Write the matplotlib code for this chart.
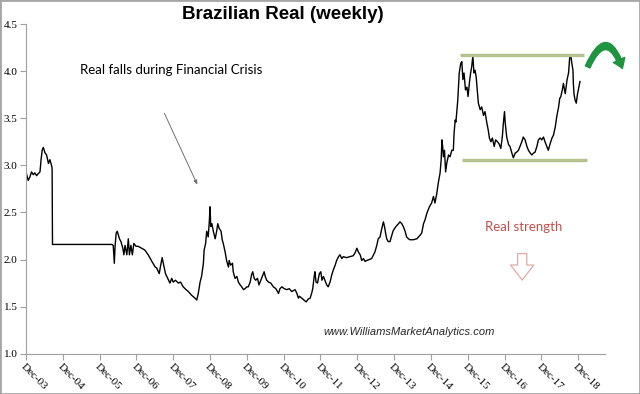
import matplotlib
matplotlib.use("Agg")
import matplotlib.pyplot as plt
from matplotlib.patches import FancyArrowPatch, Rectangle
import numpy as np

# weekly USD/BRL, dates as decimal years
dates = [
    2003.92, 2003.98, 2004.03, 2004.07, 2004.12, 2004.16, 2004.21, 2004.25, 2004.30, 2004.33,
    2004.36, 2004.39, 2004.44, 2004.48, 2004.53, 2004.57, 2004.62, 2004.63, 2004.64, 2006.25,
    2006.29, 2006.32, 2006.34, 2006.37, 2006.40, 2006.46, 2006.50, 2006.55, 2006.58, 2006.61,
    2006.66, 2006.70, 2006.73, 2006.77, 2006.81, 2006.85, 2006.91, 2006.97, 2007.06, 2007.15,
    2007.24, 2007.34, 2007.43, 2007.47, 2007.54, 2007.58, 2007.62, 2007.65, 2007.71, 2007.77,
    2007.83, 2007.88, 2007.92, 2007.98, 2008.06, 2008.12, 2008.19, 2008.27, 2008.33, 2008.42,
    2008.51, 2008.56, 2008.60, 2008.65, 2008.69, 2008.74, 2008.76, 2008.80, 2008.83, 2008.87,
    2008.90, 2008.92, 2008.94, 2008.97, 2009.01, 2009.06, 2009.10, 2009.13, 2009.17, 2009.22,
    2009.25, 2009.28, 2009.33, 2009.37, 2009.42, 2009.44, 2009.48, 2009.53, 2009.55, 2009.60,
    2009.65, 2009.69, 2009.74, 2009.78, 2009.83, 2009.87, 2009.92, 2009.96, 2010.01, 2010.05,
    2010.08, 2010.12, 2010.16, 2010.21, 2010.25, 2010.30, 2010.34, 2010.39, 2010.42, 2010.46,
    2010.51, 2010.57, 2010.64, 2010.71, 2010.78, 2010.82, 2010.87, 2010.94, 2011.00, 2011.07,
    2011.14, 2011.23, 2011.28, 2011.32, 2011.35, 2011.41, 2011.47, 2011.53, 2011.59, 2011.64,
    2011.68, 2011.71, 2011.75, 2011.77, 2011.80, 2011.84, 2011.89, 2011.93, 2011.96, 2012.00,
    2012.04, 2012.09, 2012.13, 2012.18, 2012.23, 2012.27, 2012.32, 2012.36, 2012.41, 2012.45,
    2012.50, 2012.54, 2012.63, 2012.72, 2012.81, 2012.86, 2012.91, 2012.95, 2013.00, 2013.04,
    2013.09, 2013.13, 2013.18, 2013.25, 2013.31, 2013.36, 2013.40, 2013.45, 2013.49, 2013.54,
    2013.57, 2013.60, 2013.63, 2013.66, 2013.69, 2013.72, 2013.76, 2013.81, 2013.86, 2013.90,
    2013.97, 2014.04, 2014.08, 2014.13, 2014.17, 2014.22, 2014.26, 2014.31, 2014.35, 2014.44,
    2014.54, 2014.63, 2014.67, 2014.72, 2014.76, 2014.81, 2014.88, 2014.94, 2014.99, 2015.03,
    2015.08, 2015.12, 2015.17, 2015.20, 2015.22, 2015.24, 2015.26, 2015.29, 2015.32, 2015.35,
    2015.40, 2015.44, 2015.49, 2015.53, 2015.55, 2015.58, 2015.60, 2015.62, 2015.65, 2015.67,
    2015.69, 2015.73, 2015.76, 2015.79, 2015.82, 2015.86, 2015.90, 2015.93, 2015.97, 2016.00,
    2016.03, 2016.06, 2016.09, 2016.12, 2016.15, 2016.18, 2016.21, 2016.26, 2016.30, 2016.35,
    2016.39, 2016.44, 2016.48, 2016.51, 2016.55, 2016.59, 2016.64, 2016.68, 2016.73, 2016.77,
    2016.82, 2016.86, 2016.89, 2016.92, 2016.94, 2016.98, 2017.03, 2017.07, 2017.12, 2017.16,
    2017.21, 2017.25, 2017.30, 2017.34, 2017.39, 2017.43, 2017.48, 2017.53, 2017.57, 2017.62,
    2017.66, 2017.71, 2017.75, 2017.80, 2017.84, 2017.89, 2017.93, 2017.98, 2018.02, 2018.07,
    2018.11, 2018.16, 2018.21, 2018.25, 2018.30, 2018.34, 2018.39, 2018.42, 2018.45, 2018.49,
    2018.52, 2018.57, 2018.62, 2018.66, 2018.69, 2018.72, 2018.75, 2018.78, 2018.79, 2018.81,
    2018.84, 2018.87, 2018.90, 2018.94, 2018.97,
]
rate = [
    2.93, 2.84, 2.88, 2.93, 2.90, 2.92, 2.89, 2.91, 2.93, 3.06,
    3.16, 3.19, 3.13, 3.11, 3.02, 3.06, 2.99, 2.96, 2.16, 2.16,
    2.15, 1.96, 2.14, 2.28, 2.30, 2.22, 2.19, 2.12, 2.05, 2.15,
    2.05, 2.22, 2.05, 2.15, 2.05, 2.17, 2.14, 2.14, 2.12, 2.10,
    2.05, 1.98, 1.92, 1.91, 1.85, 1.94, 2.02, 1.96, 1.85, 1.80,
    1.75, 1.80, 1.76, 1.78, 1.75, 1.76, 1.71, 1.68, 1.66, 1.62,
    1.59, 1.57, 1.64, 1.76, 1.82, 1.96, 2.10, 2.17, 2.30, 2.24,
    2.40, 2.56, 2.35, 2.38, 2.30, 2.22, 2.30, 2.38, 2.33, 2.30,
    2.21, 2.17, 2.08, 1.99, 1.92, 1.99, 1.94, 1.96, 1.87, 1.80,
    1.82, 1.76, 1.73, 1.71, 1.68, 1.69, 1.71, 1.71, 1.76, 1.84,
    1.87, 1.80, 1.78, 1.80, 1.73, 1.78, 1.82, 1.87, 1.82, 1.78,
    1.76, 1.75, 1.71, 1.69, 1.64, 1.69, 1.71, 1.69, 1.68, 1.69,
    1.66, 1.68, 1.64, 1.59, 1.61, 1.59, 1.57, 1.55, 1.58, 1.59,
    1.64, 1.69, 1.82, 1.87, 1.76, 1.75, 1.85, 1.87, 1.78, 1.82,
    1.78, 1.73, 1.71, 1.76, 1.84, 1.89, 1.94, 1.99, 2.03, 2.05,
    2.01, 2.03, 2.02, 2.03, 2.04, 2.07, 2.12, 2.08, 2.05, 1.99,
    2.01, 1.98, 1.99, 2.00, 2.01, 2.05, 2.08, 2.15, 2.22, 2.24,
    2.30, 2.35, 2.40, 2.35, 2.28, 2.22, 2.19, 2.19, 2.26, 2.31,
    2.35, 2.38, 2.40, 2.38, 2.35, 2.30, 2.24, 2.22, 2.21, 2.21,
    2.22, 2.26, 2.28, 2.38, 2.42, 2.49, 2.56, 2.60, 2.67, 2.60,
    2.70, 2.81, 2.92, 3.06, 3.27, 3.20, 3.09, 3.16, 2.93, 3.02,
    3.11, 3.09, 3.16, 3.16, 3.34, 3.48, 3.46, 3.55, 3.69, 3.83,
    3.98, 4.08, 4.10, 3.91, 3.98, 3.80, 3.83, 3.73, 3.89, 3.98,
    4.05, 4.16, 3.98, 4.01, 3.94, 3.80, 3.66, 3.59, 3.62, 3.53,
    3.57, 3.45, 3.37, 3.29, 3.25, 3.29, 3.20, 3.27, 3.25, 3.23,
    3.18, 3.30, 3.45, 3.57, 3.45, 3.30, 3.22, 3.20, 3.13, 3.08,
    3.13, 3.14, 3.16, 3.20, 3.25, 3.30, 3.27, 3.20, 3.16, 3.13,
    3.11, 3.13, 3.14, 3.20, 3.27, 3.29, 3.27, 3.30, 3.25, 3.20,
    3.16, 3.23, 3.29, 3.32, 3.41, 3.52, 3.62, 3.71, 3.73, 3.80,
    3.87, 3.76, 3.91, 3.98, 4.14, 4.17, 4.08, 4.01, 3.87, 3.75,
    3.69, 3.66, 3.75, 3.83, 3.89,
]

tick_years = [2003.92 + i for i in range(16)]
tick_labels = ["Dec-%02d" % (y % 100) for y in range(3, 19)]
resistance = 4.17
support = 3.06

fig = plt.figure(figsize=(6.4, 3.94), dpi=100)
ax = fig.add_axes([0.0406, 0.1023, 0.9047, 0.8367])

ax.plot(dates, rate, color="black", lw=1.0)

# channel lines
ax.hlines(resistance, 2015.71, 2019.09, color="#b4c28e", lw=2.4)
ax.hlines(support, 2015.76, 2019.16, color="#b4c28e", lw=2.4)

ax.set_xlim(2003.92, 2019.65)
ax.set_ylim(1.0, 4.5)
ax.set_yticks(np.arange(1.0, 4.51, 0.5))
ax.set_yticklabels(["%.1f" % v for v in np.arange(1.0, 4.51, 0.5)],
                   family="Liberation Serif", fontsize=8)
ax.set_xticks(tick_years)
ax.set_xticklabels(tick_labels, rotation=-45, ha="left", va="top",
                   rotation_mode="anchor", family="Liberation Serif", fontsize=8)

for s in ["top", "right"]:
    ax.spines[s].set_visible(False)
for s in ["left", "bottom"]:
    ax.spines[s].set_color("#a0a0a0")
ax.tick_params(axis="both", direction="out", length=4, width=0.8, color="#a0a0a0", pad=2)

# title
fig.text(0.442, 0.962, "Brazilian Real (weekly)", ha="center", va="center",
         fontsize=13.5, fontweight="bold", family="Liberation Sans")

# crisis annotation
ax.text(0.093, 0.86, "Real falls during Financial Crisis", transform=ax.transAxes,
        ha="left", va="center", fontsize=9.5, family="Lato")
ax.annotate("", xy=(0.298, 0.505), xytext=(0.237, 0.737),
            xycoords="axes fraction", textcoords="axes fraction",
            arrowprops=dict(arrowstyle="-|>,head_length=0.25,head_width=0.1",
                            color="#707070", lw=0.7))

# green reversal arrow
arc = FancyArrowPatch((0.970, 0.870), (1.030, 0.865), transform=ax.transAxes,
                      connectionstyle="arc3,rad=-1.25",
                      arrowstyle="simple,head_length=0.55,head_width=0.75,tail_width=0.3",
                      mutation_scale=12, color="#1f9440", clip_on=False,
                      shrinkA=0, shrinkB=0)
ax.add_patch(arc)

# real strength
ax.text(0.86, 0.385, "Real strength", transform=ax.transAxes, ha="center", va="center",
        fontsize=9.5, family="Lato", color="#c0504d")
down = FancyArrowPatch((0.857, 0.312), (0.857, 0.215), transform=ax.transAxes,
                       arrowstyle="simple,head_length=0.9,head_width=1.4,tail_width=0.55",
                       mutation_scale=12, facecolor="white", edgecolor="#e2aaa6", lw=0.9)
ax.add_patch(down)

ax.text(0.661, 0.065, "www.WilliamsMarketAnalytics.com", transform=ax.transAxes,
        ha="center", va="center", fontsize=8, style="italic", family="Liberation Sans",
        color="#262626")

fig.patches.append(Rectangle((0, 0), 1, 1, transform=fig.transFigure, fill=False,
                             edgecolor="#a6a6a6", lw=2))

fig.savefig("out.png", dpi=100)
